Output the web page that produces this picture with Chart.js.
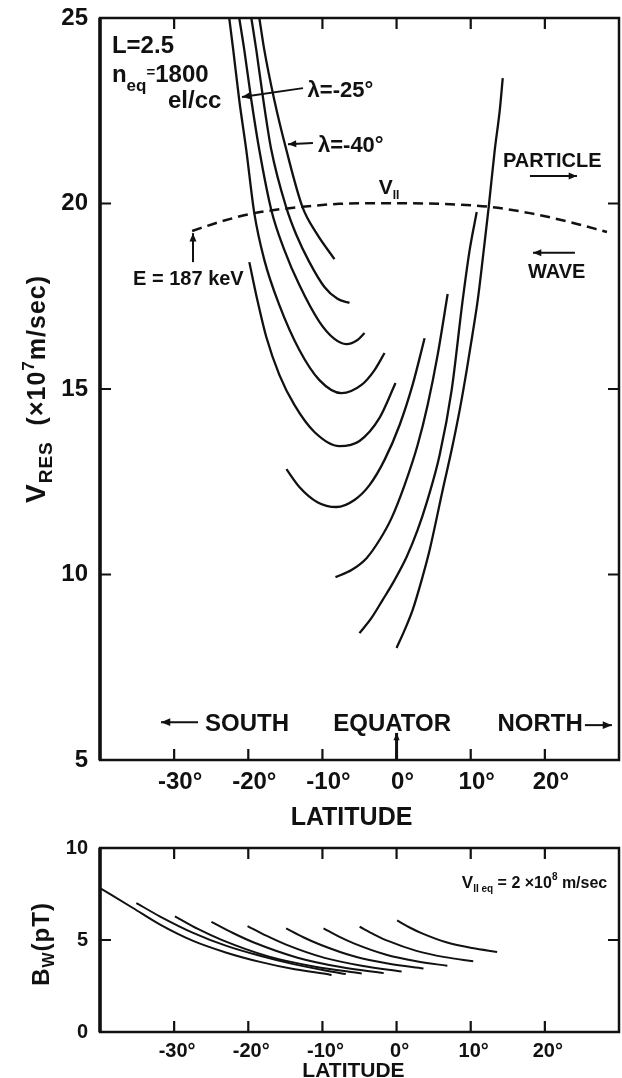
<!DOCTYPE html>
<html>
<head>
<meta charset="utf-8">
<script src="https://cdn.jsdelivr.net/npm/chart.js@4.4.1/dist/chart.umd.min.js"></script>
<style>
  html, body { margin: 0; padding: 0; background: #fff; }
  #wrap { position: relative; width: 622px; height: 1078px; overflow: hidden; }
  #topBox { position: absolute; left: 0; top: 0; width: 622px; height: 835px; }
  #botBox { position: absolute; left: 0; top: 835px; width: 622px; height: 243px; }
</style>
</head>
<body>
<div id="wrap">
  <div id="topBox"><canvas id="vresChart"></canvas></div>
  <div id="botBox"><canvas id="bwChart"></canvas></div>
</div>
<script>
// axis ranges and ticks
const latMin = -40, latMax = 30;
const latTicks = [-30, -20, -10, 0, 10, 20];
const topEdgeTicks = [-30, -10, 0, 10, 20]; // -20 is hidden under the curves in the top panel
const vresTicks = [10, 15, 20];
const vresLabels = [5, 10, 15, 20, 25];
const bwTicks = [5];
const bwLabels = [0, 5, 10];

// top panel: V_RES (x10^7 m/sec) vs latitude, one curve per start latitude
const vresLam40 = [[-18.51,25],[-17.84,24.14],[-16.49,22.79],[-14.86,21.44],[-12.70,19.91],[-10.81,19.20],[-8.38,18.50]];
const vresLam35 = [[-19.59,25],[-18.92,24.14],[-17.97,22.79],[-16.89,21.44],[-14.86,19.88],[-13.51,19.15],[-11.76,18.42],[-9.73,17.75],[-7.97,17.43],[-6.35,17.32]];
const vresLam30 = [[-21.22,25],[-20.54,24.14],[-19.59,22.79],[-18.51,21.44],[-16.89,19.82],[-15.14,18.75],[-13.11,17.80],[-10.41,16.81],[-8.38,16.35],[-6.76,16.21],[-5.27,16.32],[-4.32,16.51]];
const vresLam25 = [[-22.57,25],[-22.03,24.14],[-21.22,22.79],[-20.27,21.44],[-19.19,19.74],[-17.84,18.48],[-15.81,17.26],[-13.11,16.05],[-10.41,15.24],[-7.43,14.89],[-4.73,15.11],[-2.97,15.51],[-1.62,15.97]];
const vresLam20 = [[-19.86,18.42],[-18.78,17.40],[-17.57,16.40],[-15.81,15.38],[-13.78,14.57],[-11.08,13.84],[-7.70,13.46],[-5.00,13.60],[-2.30,14.22],[-0.14,15.16]];
const vresLam15 = [[-14.86,12.84],[-13.11,12.36],[-10.68,11.95],[-8.11,11.82],[-5.68,12.01],[-3.65,12.41],[-1.62,13.09],[0.41,14.03],[2.16,15.11],[3.78,16.37]];
const vresLam10 = [[-8.24,9.93],[-6.08,10.12],[-4.05,10.44],[-2.30,10.93],[-0.68,11.52],[1.08,12.41],[2.84,13.49],[4.19,14.57],[5.54,15.92],[6.89,17.56]];
const vresLam5 = [[-5.00,8.42],[-3.38,8.83],[-1.89,9.31],[-0.27,9.85],[1.35,10.47],[2.84,11.20],[4.05,11.93],[5.81,13.22],[7.43,14.97],[8.92,17.40],[9.86,18.75],[10.81,19.77]];
const vresLam0 = [[0,8.02],[1.08,8.50],[2.16,9.04],[3.38,9.85],[4.46,10.66],[6.22,12.28],[7.43,13.36],[8.51,14.43],[9.46,15.51],[10.27,16.51],[10.95,17.40],[11.76,18.75],[12.43,19.91],[13.24,21.44],[13.92,22.52],[14.32,23.38]];
// V parallel for E = 187 keV (dashed)
const vParallel = [[-27.57,19.26],[-23.92,19.50],[-19.19,19.74],[-12.70,19.91],[-7.70,19.99],[-0.95,20.01],[5.81,19.99],[12.57,19.91],[17.97,19.74],[23.38,19.50],[28.38,19.23]];

// bottom panel: B_W (pT) vs latitude
const bwLam40 = [[-40.0,7.82],[-35.56,6.74],[-31.95,5.85],[-27.44,4.95],[-22.94,4.31],[-18.42,3.81],[-13.91,3.42],[-9.40,3.15],[-8.77,3.09]];
const bwLam35 = [[-35.1,7.01],[-31.95,6.29],[-27.44,5.39],[-22.94,4.68],[-18.42,4.14],[-13.91,3.69],[-9.40,3.33],[-6.85,3.15]];
const bwLam30 = [[-29.9,6.29],[-26.8,5.60],[-23.6,5.01],[-17.3,4.11],[-11.0,3.55],[-4.7,3.18]];
const bwLam25 = [[-24.97,5.99],[-22.07,5.38],[-19.16,4.85],[-13.35,4.04],[-7.54,3.53],[-1.73,3.20]];
const bwLam20 = [[-20.1,5.76],[-17.5,5.22],[-14.9,4.75],[-9.71,4.03],[-4.52,3.59],[0.68,3.29]];
const bwLam15 = [[-14.9,5.63],[-12.58,5.15],[-10.27,4.74],[-5.64,4.10],[-1.0,3.71],[3.63,3.45]];
const bwLam10 = [[-9.85,5.63],[-7.76,5.18],[-5.68,4.80],[-1.5,4.21],[2.68,3.84],[6.85,3.60]];
const bwLam5 = [[-4.98,5.72],[-3.07,5.31],[-1.15,4.95],[2.68,4.41],[6.51,4.07],[10.34,3.85]];
const bwLam0 = [[0.07,6.06],[1.76,5.68],[3.44,5.36],[6.82,4.86],[10.19,4.56],[13.56,4.35]];

const FONT = '"Liberation Sans", Arial, sans-serif';
const INK = '#111';

function setFont(ctx, size) { ctx.font = `bold ${size}px ${FONT}`; }

// text runs with sub/superscripts: [text, size, dy]
function richText(ctx, parts, x, y, align) {
    let w = 0;
    for (const [t, s] of parts) { setFont(ctx, s); w += ctx.measureText(t).width; }
    let cx = align === 'center' ? x - w / 2 : x;
    for (const [t, s, dy] of parts) {
        setFont(ctx, s);
        ctx.fillText(t, cx, y + (dy || 0));
        cx += ctx.measureText(t).width;
    }
}

function arrow(ctx, x1, y1, x2, y2, head) {
    ctx.beginPath(); ctx.moveTo(x1, y1); ctx.lineTo(x2, y2); ctx.stroke();
    const a = Math.atan2(y2 - y1, x2 - x1);
    ctx.beginPath();
    ctx.moveTo(x2, y2);
    ctx.lineTo(x2 - head * Math.cos(a - 0.4), y2 - head * Math.sin(a - 0.4));
    ctx.lineTo(x2 - head * Math.cos(a + 0.4), y2 - head * Math.sin(a + 0.4));
    ctx.closePath(); ctx.fill();
}

function drawFrame(chart, bottomTicks, topTicks, yTicks, len) {
    const { ctx, chartArea: a, scales } = chart;
    ctx.save();
    ctx.strokeStyle = INK;
    ctx.lineWidth = 2.5;
    ctx.strokeRect(a.left, a.top, a.right - a.left, a.bottom - a.top);
    ctx.lineWidth = 3.5;
    ctx.beginPath(); ctx.moveTo(a.left, a.top); ctx.lineTo(a.left, a.bottom); ctx.stroke();
    ctx.lineWidth = 2.2;
    ctx.beginPath();
    bottomTicks.forEach(v => {
        const px = scales.x.getPixelForValue(v);
        ctx.moveTo(px, a.bottom); ctx.lineTo(px, a.bottom - len);
    });
    topTicks.forEach(v => {
        const px = scales.x.getPixelForValue(v);
        ctx.moveTo(px, a.top); ctx.lineTo(px, a.top + len);
    });
    yTicks.forEach(v => {
        const py = scales.y.getPixelForValue(v);
        ctx.moveTo(a.left, py); ctx.lineTo(a.left + len, py);
        ctx.moveTo(a.right, py); ctx.lineTo(a.right - len, py);
    });
    ctx.stroke();
    ctx.restore();
}

function curve(points, dashed) {
    return {
        data: points.map(p => ({ x: p[0], y: p[1] })),
        borderColor: INK,
        borderWidth: dashed ? 2.5 : 2.3,
        borderDash: dashed ? [10, 6] : [],
        pointRadius: 0,
        fill: false,
        cubicInterpolationMode: 'monotone'
    };
}

// labels may hang outside the plot; keep them from shrinking the plot area
function noOverflow(s) { s.paddingTop = 0; s.paddingBottom = 0; s.paddingLeft = 0; s.paddingRight = 0; }

function baseOptions(yMin, yMax, yLabels, padding, yWidth, xHeight, tickSize, tickPad, labelShift) {
    return {
        animation: false,
        responsive: true,
        maintainAspectRatio: false,
        events: [],
        layout: { padding: padding },
        plugins: { legend: { display: false }, tooltip: { enabled: false } },
        scales: {
            x: {
                type: 'linear', min: latMin, max: latMax,
                afterBuildTicks: s => { s.ticks = latTicks.map(v => ({ value: v })); },
                afterFit: s => { s.height = xHeight; noOverflow(s); },
                grid: { display: false, drawTicks: false },
                border: { display: false },
                ticks: { color: INK, padding: tickPad, autoSkip: false, maxRotation: 0, labelOffset: labelShift,
                    font: { family: FONT, size: tickSize, weight: 'bold' },
                    callback: v => v + '°' }
            },
            y: {
                type: 'linear', min: yMin, max: yMax,
                afterBuildTicks: s => { s.ticks = yLabels.map(v => ({ value: v })); },
                afterFit: s => { s.width = yWidth; noOverflow(s); },
                grid: { display: false, drawTicks: false },
                border: { display: false },
                ticks: { color: INK, padding: 12, autoSkip: false,
                    font: { family: FONT, size: tickSize, weight: 'bold' } }
            }
        }
    };
}

const topDecor = {
    id: 'topDecor',
    afterDraw(chart) {
        const { ctx, chartArea: a, scales: { x, y } } = chart;
        const P = (lat, v) => [x.getPixelForValue(lat), y.getPixelForValue(v)];
        drawFrame(chart, latTicks, topEdgeTicks, vresTicks, 11);
        ctx.save();
        ctx.fillStyle = INK; ctx.strokeStyle = INK; ctx.lineWidth = 2;
        ctx.textBaseline = 'alphabetic';
        let p;
        p = P(-38.39, 24.06); richText(ctx, [['L=2.5', 24]], p[0], p[1]);
        p = P(-38.39, 23.27); richText(ctx, [['n', 24], ['eq', 17, 9], ['=', 15, -5], ['1800', 24]], p[0], p[1]);
        p = P(-30.83, 22.57); richText(ctx, [['el/cc', 24]], p[0], p[1]);

        // lambda leaders
        let t = P(-12.62, 23.11), h = P(-20.85, 22.87);
        arrow(ctx, t[0], t[1], h[0], h[1], 9);
        p = P(-12.0, 22.86); richText(ctx, [['λ=-25°', 22]], p[0], p[1]);
        t = P(-11.28, 21.63); h = P(-14.65, 21.60);
        arrow(ctx, t[0], t[1], h[0], h[1], 9);
        p = P(-10.6, 21.40); richText(ctx, [['λ=-40°', 22]], p[0], p[1]);

        // V parallel label
        p = P(-2.4, 20.25); richText(ctx, [['V', 21], ['II', 12, 5]], p[0], p[1]);

        // particle / wave
        p = P(14.35, 20.98); richText(ctx, [['PARTICLE', 20]], p[0], p[1]);
        t = P(17.99, 20.74); h = P(24.33, 20.74);
        arrow(ctx, t[0], t[1], h[0], h[1], 9);
        t = P(24.06, 18.67); h = P(18.4, 18.67);
        arrow(ctx, t[0], t[1], h[0], h[1], 9);
        p = P(17.72, 17.99); richText(ctx, [['WAVE', 20]], p[0], p[1]);

        // energy label
        t = P(-27.46, 18.42); h = P(-27.46, 19.2);
        arrow(ctx, t[0], t[1], h[0], h[1], 9);
        p = P(-35.54, 17.80); richText(ctx, [['E = 187 keV', 20]], p[0], p[1]);

        // south / equator / north
        t = P(-26.78, 6.02); h = P(-31.77, 6.02);
        arrow(ctx, t[0], t[1], h[0], h[1], 10);
        p = P(-25.84, 5.78); richText(ctx, [['SOUTH', 24]], p[0], p[1]);
        p = P(-0.6, 5.78); richText(ctx, [['EQUATOR', 24]], p[0], p[1], 'center');
        ctx.lineWidth = 3;
        t = P(0, 5.0); h = P(0, 5.73);
        arrow(ctx, t[0], t[1], h[0], h[1], 8);
        ctx.lineWidth = 2;
        p = P(13.6, 5.78); richText(ctx, [['NORTH', 24]], p[0], p[1]);
        t = P(25.4, 5.94); h = P(29.05, 5.94);
        arrow(ctx, t[0], t[1], h[0], h[1], 10);

        // axis titles
        richText(ctx, [['LATITUDE', 25]], (a.left + a.right) / 2 - 8, a.bottom + 65, 'center');
        ctx.translate(35, (a.top + a.bottom) / 2);
        ctx.rotate(-Math.PI / 2);
        ctx.letterSpacing = '1px';
        richText(ctx, [['V', 28], ['RES', 19, 7], ['  (×10', 25], ['7', 17, -11], ['m/sec)', 25]], 0, 10, 'center');
        ctx.restore();
    }
};

const botDecor = {
    id: 'botDecor',
    afterDraw(chart) {
        const { ctx, chartArea: a, scales: { x, y } } = chart;
        drawFrame(chart, latTicks, latTicks, bwTicks, 11);
        ctx.save();
        ctx.fillStyle = INK;
        ctx.textBaseline = 'alphabetic';
        const px = x.getPixelForValue(8.8), py = y.getPixelForValue(7.85);
        richText(ctx, [['V', 17], ['II eq', 10, 4], [' = 2 ×10', 16], ['8', 10, -8], [' m/sec', 16]], px, py);
        richText(ctx, [['LATITUDE', 21]], (a.left + a.right) / 2 - 6, a.bottom + 45, 'center');
        ctx.translate(41, (a.top + a.bottom) / 2 + 4);
        ctx.rotate(-Math.PI / 2);
        ctx.letterSpacing = '1px';
        richText(ctx, [['B', 24], ['W', 16, 5], ['(pT)', 24]], 0, 8, 'center');
        ctx.restore();
    }
};

new Chart(document.getElementById('vresChart'), {
    type: 'line',
    data: { datasets: [
        curve(vresLam40), curve(vresLam35), curve(vresLam30), curve(vresLam25), curve(vresLam20),
        curve(vresLam15), curve(vresLam10), curve(vresLam5), curve(vresLam0), curve(vParallel, true)
    ] },
    options: baseOptions(5, 25, vresLabels, { left: 0, right: 3, top: 18, bottom: 0 }, 100, 75, 24, 8, 6),
    plugins: [topDecor]
});

new Chart(document.getElementById('bwChart'), {
    type: 'line',
    data: { datasets: [
        curve(bwLam40), curve(bwLam35), curve(bwLam30), curve(bwLam25), curve(bwLam20),
        curve(bwLam15), curve(bwLam10), curve(bwLam5), curve(bwLam0)
    ].map(d => Object.assign(d, { borderWidth: 2 })) },
    options: baseOptions(0, 10, bwLabels, { left: 0, right: 3, top: 13, bottom: 0 }, 100, 46, 20, 7, 3),
    plugins: [botDecor]
});
</script>
</body>
</html>
